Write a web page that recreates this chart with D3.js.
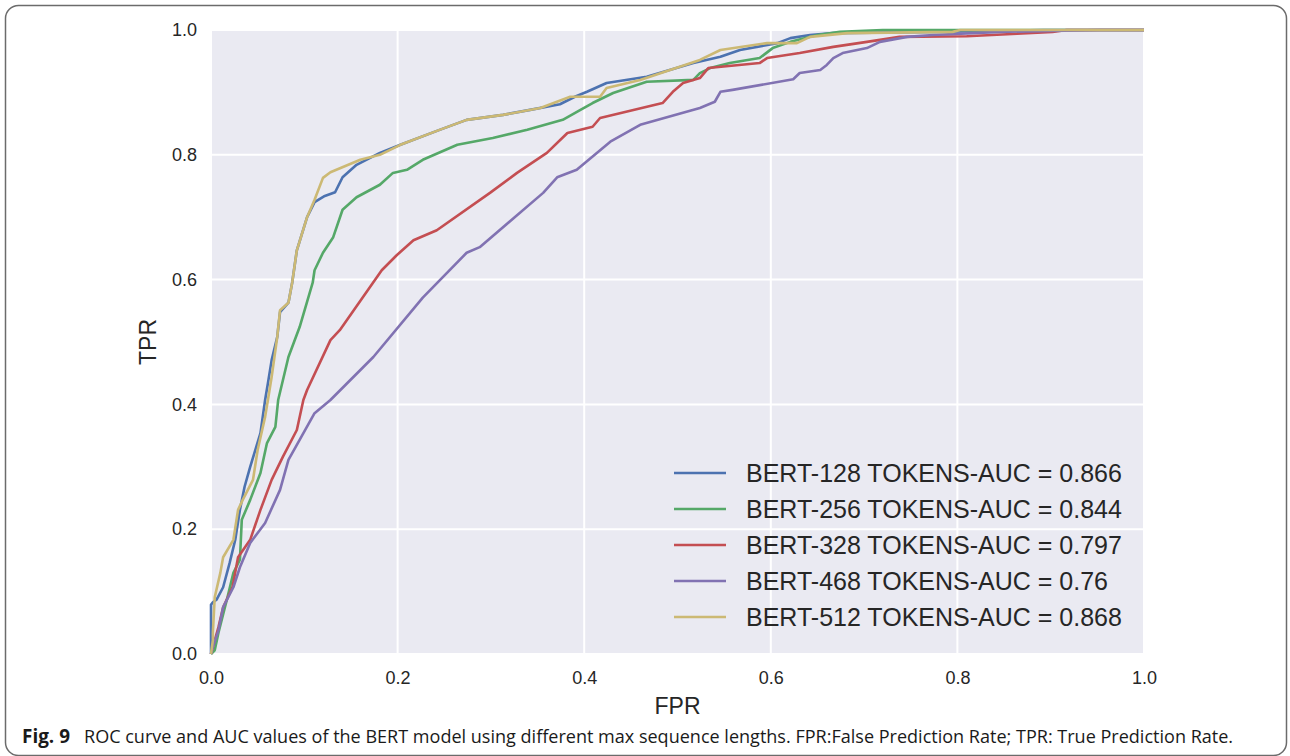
<!DOCTYPE html>
<html>
<head>
<meta charset="utf-8">
<script src="https://cdn.jsdelivr.net/npm/d3@7"></script>
<style>
  body { margin: 0; background: #fff; }
  svg { display: block; }
</style>
</head>
<body>
<div id="chart"></div>
<script>
// ROC points [FPR, TPR]
var bert128 = [[0,0],[0,0.079],[0.002,0.083],[0.006,0.087],[0.013,0.107],[0.020,0.146],[0.026,0.183],
  [0.031,0.231],[0.036,0.268],[0.042,0.300],[0.053,0.354],[0.058,0.407],[0.061,0.434],[0.065,0.471],
  [0.071,0.508],[0.074,0.548],[0.083,0.563],[0.087,0.595],[0.092,0.647],[0.103,0.700],[0.111,0.724],
  [0.122,0.734],[0.133,0.740],[0.141,0.764],[0.156,0.784],[0.181,0.803],[0.203,0.816],[0.245,0.840],
  [0.274,0.856],[0.313,0.864],[0.342,0.872],[0.374,0.881],[0.390,0.893],[0.403,0.901],[0.424,0.915],
  [0.467,0.925],[0.517,0.947],[0.546,0.957],[0.567,0.968],[0.607,0.979],[0.621,0.987],[0.642,0.992],
  [0.667,0.995],[0.774,0.997],[0.892,1.0],[1,1]];
var bert256 = [[0,0],[0.004,0.006],[0.008,0.034],[0.017,0.087],[0.024,0.130],[0.031,0.151],[0.033,0.215],
  [0.042,0.247],[0.053,0.290],[0.060,0.338],[0.069,0.364],[0.072,0.407],[0.083,0.476],[0.095,0.524],
  [0.109,0.595],[0.111,0.615],[0.120,0.643],[0.131,0.668],[0.141,0.712],[0.156,0.732],[0.181,0.752],
  [0.195,0.771],[0.210,0.776],[0.227,0.792],[0.264,0.816],[0.302,0.827],[0.339,0.840],[0.377,0.856],
  [0.396,0.872],[0.409,0.883],[0.431,0.899],[0.467,0.917],[0.517,0.920],[0.524,0.931],[0.535,0.939],
  [0.556,0.947],[0.588,0.955],[0.602,0.971],[0.621,0.981],[0.650,0.992],[0.674,0.997],[0.720,1.0],[1,1]];
var bert328 = [[0,0],[0.002,0.011],[0.008,0.043],[0.013,0.075],[0.023,0.107],[0.029,0.155],[0.042,0.183],
  [0.053,0.231],[0.065,0.279],[0.077,0.316],[0.092,0.359],[0.099,0.407],[0.103,0.423],[0.128,0.503],
  [0.138,0.519],[0.183,0.615],[0.199,0.639],[0.217,0.663],[0.242,0.679],[0.299,0.739],[0.328,0.771],
  [0.360,0.803],[0.382,0.835],[0.409,0.845],[0.417,0.859],[0.484,0.883],[0.495,0.901],[0.506,0.915],
  [0.524,0.923],[0.533,0.939],[0.588,0.947],[0.596,0.955],[0.631,0.963],[0.667,0.973],[0.703,0.981],
  [0.738,0.989],[0.810,0.990],[0.864,0.994],[0.902,0.997],[0.917,1.0],[1,1]];
var bert468 = [[0,0],[0.002,0.011],[0.008,0.038],[0.013,0.075],[0.024,0.107],[0.031,0.139],[0.042,0.178],
  [0.058,0.210],[0.074,0.263],[0.083,0.311],[0.095,0.343],[0.111,0.386],[0.128,0.407],[0.174,0.476],
  [0.227,0.571],[0.274,0.643],[0.288,0.652],[0.356,0.739],[0.371,0.764],[0.392,0.776],[0.428,0.821],
  [0.460,0.848],[0.524,0.875],[0.540,0.885],[0.546,0.901],[0.559,0.904],[0.624,0.921],[0.631,0.931],
  [0.653,0.936],[0.660,0.944],[0.667,0.955],[0.677,0.963],[0.703,0.971],[0.717,0.981],[0.746,0.989],
  [0.774,0.992],[0.846,0.997],[0.953,1.0],[1,1]];
var bert512 = [[0,0],[0.002,0.022],[0.002,0.034],[0.004,0.091],[0.010,0.130],[0.013,0.155],[0.024,0.183],
  [0.029,0.231],[0.034,0.247],[0.045,0.279],[0.050,0.327],[0.058,0.380],[0.061,0.407],[0.065,0.444],
  [0.071,0.508],[0.074,0.551],[0.083,0.563],[0.087,0.595],[0.092,0.647],[0.103,0.700],[0.111,0.728],
  [0.120,0.763],[0.128,0.772],[0.144,0.782],[0.160,0.792],[0.181,0.800],[0.203,0.816],[0.245,0.840],
  [0.274,0.856],[0.313,0.864],[0.353,0.875],[0.385,0.893],[0.417,0.893],[0.424,0.907],[0.460,0.920],
  [0.524,0.952],[0.546,0.968],[0.596,0.979],[0.628,0.979],[0.642,0.989],[0.682,0.995],[0.795,0.997],
  [0.803,1.0],[1,1]];

var seriesNames = ["BERT-128 TOKENS-AUC = 0.866", "BERT-256 TOKENS-AUC = 0.844",
  "BERT-328 TOKENS-AUC = 0.797", "BERT-468 TOKENS-AUC = 0.76", "BERT-512 TOKENS-AUC = 0.868"];
var seriesColors = ["#4C72B0", "#55A868", "#C44E52", "#8172B2", "#CCB974"];
var tickValues = [0, 0.2, 0.4, 0.6, 0.8, 1.0];
var captionBold = "Fig. 9";
var captionText = "ROC curve and AUC values of the BERT model using different max sequence lengths. FPR:False Prediction Rate; TPR: True Prediction Rate.";

var series = [bert128, bert256, bert328, bert468, bert512];

var width = 1290, height = 756;
var plot = {left: 211, right: 1144, top: 30, bottom: 654};

var svg = d3.select("#chart").append("svg")
    .attr("width", width)
    .attr("height", height);

// figure frame
svg.append("rect")
    .attr("x", 5.5).attr("y", 5.5)
    .attr("width", 1281).attr("height", 750)
    .attr("rx", 13)
    .style("fill", "none")
    .style("stroke", "#6b6b6b")
    .style("stroke-width", 1.5);

var x = d3.scaleLinear().domain([0, 1]).range([plot.left, plot.right]);
var y = d3.scaleLinear().domain([0, 1]).range([plot.bottom, plot.top]);

svg.append("rect")
    .attr("x", plot.left).attr("y", plot.top)
    .attr("width", plot.right - plot.left)
    .attr("height", plot.bottom - plot.top)
    .style("fill", "#EAEAF2");

// grid lines
var grid = svg.append("g");
grid.selectAll(".vg").data(tickValues).enter().append("line")
    .attr("x1", function(d) { return x(d); }).attr("x2", function(d) { return x(d); })
    .attr("y1", plot.top).attr("y2", plot.bottom)
    .style("stroke", "#fff").style("stroke-width", 2);
grid.selectAll(".hg").data(tickValues).enter().append("line")
    .attr("y1", function(d) { return y(d); }).attr("y2", function(d) { return y(d); })
    .attr("x1", plot.left).attr("x2", plot.right)
    .style("stroke", "#fff").style("stroke-width", 2);

// axes (labels only, seaborn style)
var xAxis = svg.append("g")
    .attr("transform", "translate(0," + plot.bottom + ")")
    .call(d3.axisBottom(x).tickValues(tickValues).tickFormat(d3.format(".1f")).tickSize(0).tickPadding(17));
var yAxis = svg.append("g")
    .attr("transform", "translate(" + plot.left + ",0)")
    .call(d3.axisLeft(y).tickValues(tickValues).tickFormat(d3.format(".1f")).tickSize(0).tickPadding(14));
[xAxis, yAxis].forEach(function(a) {
    a.select(".domain").remove();
    a.selectAll("text")
        .style("font-family", "'Liberation Sans', Arial, sans-serif")
        .style("font-size", "18px")
        .style("fill", "#262626");
});

svg.append("text")
    .attr("x", (plot.left + plot.right) / 2).attr("y", 714)
    .attr("text-anchor", "middle")
    .style("font-family", "'Liberation Sans', Arial, sans-serif")
    .style("font-size", "23px").style("fill", "#262626")
    .text("FPR");
svg.append("text")
    .attr("transform", "translate(156," + (plot.top + plot.bottom) / 2 + ") rotate(-90)")
    .attr("text-anchor", "middle")
    .style("font-family", "'Liberation Sans', Arial, sans-serif")
    .style("font-size", "23px").style("fill", "#262626")
    .text("TPR");

// curves
var line = d3.line()
    .x(function(d) { return x(d[0]); })
    .y(function(d) { return y(d[1]); });

svg.append("g").selectAll("path")
    .data(series)
    .enter().append("path")
    .attr("d", line)
    .style("fill", "none")
    .style("stroke", function(d, i) { return seriesColors[i]; })
    .style("stroke-width", 2.6)
    .style("stroke-linejoin", "round");

// legend (no frame)
var legend = svg.append("g").selectAll("g")
    .data(seriesNames)
    .enter().append("g")
    .attr("transform", function(d, i) { return "translate(674," + (473 + i * 36) + ")"; });
legend.append("line")
    .attr("x1", 0).attr("x2", 52)
    .style("stroke", function(d, i) { return seriesColors[i]; })
    .style("stroke-width", 2.6);
legend.append("text")
    .attr("x", 72).attr("dy", "0.36em")
    .style("font-family", "'Liberation Sans', Arial, sans-serif")
    .style("font-size", "25px").style("fill", "#262626")
    .text(function(d) { return d; });

// caption, squeezed horizontally to the reference's condensed face
function squeeze(sel, x0, targetWidth) {
    var w = sel.node().getComputedTextLength();
    sel.attr("transform", "translate(" + x0 + ",743) scale(" + (targetWidth / w) + ",1)");
}
var capBold = svg.append("text")
    .style("font-family", "'Open Sans', sans-serif")
    .style("font-weight", "bold")
    .style("font-size", "19px").style("fill", "#1a1a1a")
    .text(captionBold);
squeeze(capBold, 22, 48);
var capText = svg.append("text")
    .style("font-family", "'Open Sans', sans-serif")
    .style("font-size", "19px").style("fill", "#1a1a1a")
    .text(captionText);
squeeze(capText, 84, 1150);
</script>
</body>
</html>
